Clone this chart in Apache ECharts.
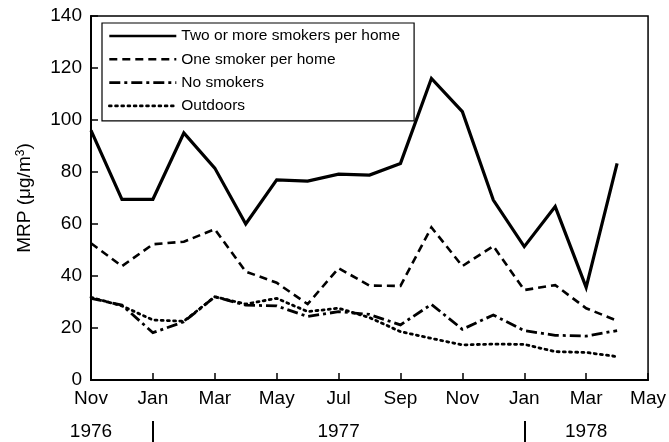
<!DOCTYPE html>
<html>
<head>
<meta charset="utf-8">
<script src="https://cdn.jsdelivr.net/npm/echarts@6/dist/echarts.min.js"></script>
<style>
  html, body { margin: 0; padding: 0; background: #fff; }
  #chart { width: 669px; height: 442px; }
</style>
</head>
<body>
<div id="chart"></div>
<script>
// Monthly axis: Nov 1976 .. May 1978 (measurements run Nov 1976 .. Apr 1978)
const months = ['Nov','Dec','Jan','Feb','Mar','Apr','May','Jun','Jul','Aug','Sep','Oct',
                'Nov','Dec','Jan','Feb','Mar','Apr','May'];
// Year captions placed under the month axis, keyed by month index
const yearLabels = { 0: '1976', 8: '1977', 16: '1978' };
const yearBreaks = [2, 14];
const yTicks = [0, 20, 40, 60, 80, 100, 120, 140];

// Respirable particulate mass (µg/m³)
const twoOrMore = [96, 69.5, 69.5, 95, 81.5, 60, 77, 76.5, 79.2, 78.8, 83.3, 116, 103.2, 69.2, 51.3, 66.7, 35.6, 83.3];
const oneSmoker = [52.6, 43.8, 52.2, 53.2, 58, 41.7, 37.4, 29.2, 43, 36.3, 36.2, 58.7, 43.8, 51.5, 34.6, 36.5, 27.6, 22.8];
const noSmokers = [31.4, 28.8, 18.2, 22.4, 32, 28.8, 28.5, 24.4, 26.3, 25.2, 21.2, 29.1, 19.5, 25, 19, 17.2, 16.9, 19];
const outdoors  = [31.8, 28.5, 23.1, 22.6, 32, 29.2, 31.4, 26.3, 27.6, 24, 18.6, 16, 13.5, 13.8, 13.7, 10.9, 10.6, 9];

const FONT = "'Liberation Sans', Arial, Helvetica, sans-serif";

const chart = echarts.init(document.getElementById('chart'), null, { renderer: 'canvas' });

function seriesOf(name, data, width, dash, cap) {
  return {
    name: name,
    type: 'line',
    data: data,
    symbol: 'none',
    silent: true,
    animation: false,
    itemStyle: { color: '#000' },
    lineStyle: { color: '#000', width: width, type: dash, cap: cap || 'butt', join: 'miter' }
  };
}

chart.setOption({
  animation: false,
  backgroundColor: '#fff',
  color: ['#000'],
  grid: {
    left: 91, right: 14, top: 16, bottom: 62,
    show: true, borderColor: '#000', borderWidth: 1.5, backgroundColor: 'transparent'
  },
  legend: {
    orient: 'vertical',
    left: 102, top: 23,
    padding: [5, 14, 7, 6],
    itemWidth: 67, itemHeight: 14, itemGap: 7.3,
    borderColor: '#000', borderWidth: 1.2,
    backgroundColor: '#fff',
    selectedMode: false,
    itemStyle: { opacity: 0 },
    lineStyle: { width: 2.6 },
    textStyle: { fontFamily: FONT, fontSize: 15.5, color: '#000', lineHeight: 16 },
    data: ['Two or more smokers per home', 'One smoker per home', 'No smokers', 'Outdoors']
  },
  xAxis: [
    {
      type: 'category',
      data: months,
      boundaryGap: false,
      position: 'bottom',
      axisLine: { lineStyle: { color: '#000', width: 2 } },
      axisTick: { inside: true, length: 7, interval: 1, lineStyle: { color: '#000', width: 1.5 } },
      axisLabel: { interval: 1, margin: 9, fontFamily: FONT, fontSize: 19, color: '#000' },
      splitLine: { show: false }
    },
    {
      type: 'category',
      data: months,
      boundaryGap: false,
      position: 'bottom',
      offset: 41,
      axisLine: { show: false },
      axisTick: {
        show: true, length: 21,
        interval: function (idx) { return yearBreaks.indexOf(idx) >= 0; },
        lineStyle: { color: '#000', width: 2 }
      },
      axisLabel: {
        interval: 0, margin: 1, fontFamily: FONT, fontSize: 19, color: '#000',
        formatter: function (v, idx) { return yearLabels[idx] || ''; }
      },
      splitLine: { show: false }
    }
  ],
  yAxis: {
    type: 'value',
    min: yTicks[0], max: yTicks[yTicks.length - 1], interval: 20,
    name: 'MRP (μg/m{sup|3})',
    nameLocation: 'middle',
    nameGap: 56,
    nameRotate: 90,
    nameTextStyle: {
      fontFamily: FONT, fontSize: 19, color: '#000',
      rich: { sup: { fontFamily: FONT, fontSize: 12, color: '#000', verticalAlign: 'top', padding: [0, 0, 8, 0] } }
    },
    axisLine: { show: true, lineStyle: { color: '#000', width: 2 } },
    axisTick: { show: true, inside: true, length: 7, lineStyle: { color: '#000', width: 1.5 } },
    axisLabel: { margin: 9, fontFamily: FONT, fontSize: 19, color: '#000' },
    splitLine: { show: false }
  },
  series: [
    seriesOf('Two or more smokers per home', twoOrMore, 3.2, 'solid'),
    seriesOf('One smoker per home', oneSmoker, 2.6, [8, 5]),
    seriesOf('No smokers', noSmokers, 2.8, [11, 4, 3, 4]),
    seriesOf('Outdoors', outdoors, 2.8, [2, 4.2], 'round')
  ]
});
</script>
</body>
</html>
